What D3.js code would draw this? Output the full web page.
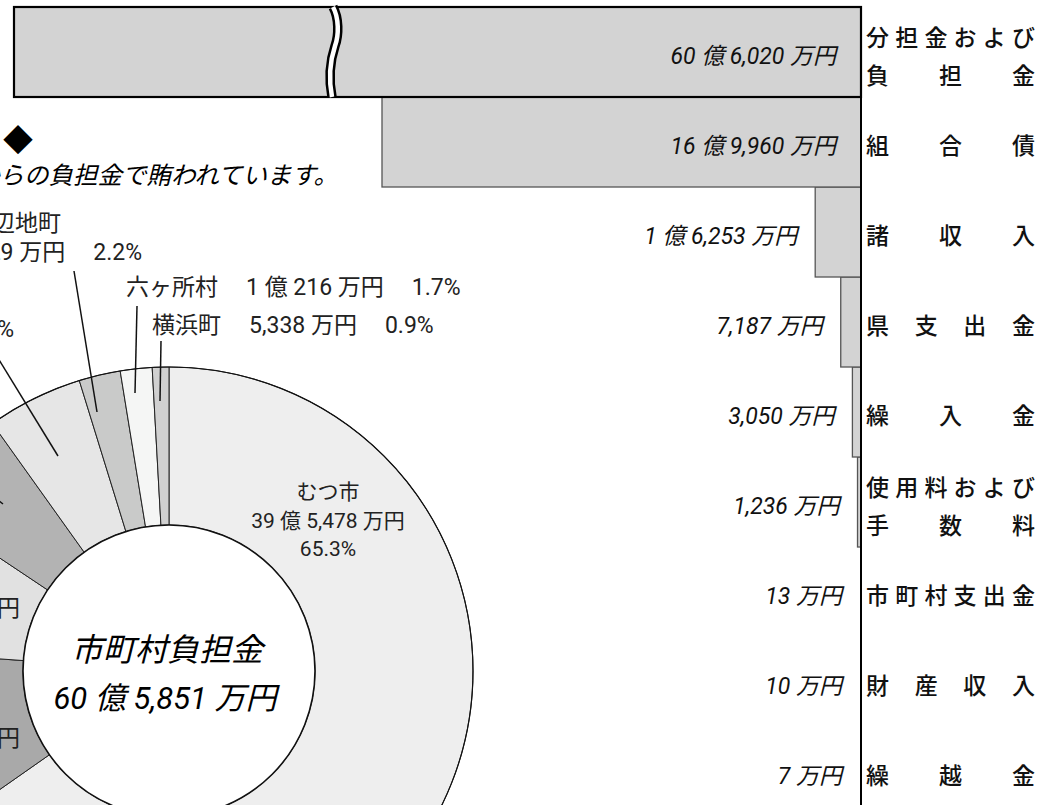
<!DOCTYPE html>
<html>
<head>
<meta charset="utf-8">
<script src="https://cdn.jsdelivr.net/npm/d3@7"></script>
<style>
  body { margin: 0; background: #fff; overflow: hidden; }
  svg { display: block; }
  text { font-family: Roboto, "Noto Sans CJK JP", sans-serif; white-space: pre; }
</style>
</head>
<body>
<div id="chart"></div>
<script>
'use strict';

let width = 1043;
let height = 805;

// 歳入の内訳 (万円)
let revenueNames = [
    ["分担金および", "負担金"], ["組合債"], ["諸収入"], ["県支出金"], ["繰入金"],
    ["使用料および", "手数料"], ["市町村支出金"], ["財産収入"], ["繰越金"]
];
let revenueValues = [606020, 169960, 16253, 7187, 3050, 1236, 13, 10, 7];

// 市町村負担金の内訳 (万円)
let townNames = ["むつ市", "東通村", "大間町", "佐井村", "風間浦村", "野辺地町", "六ヶ所村", "横浜町"];
let townValues = [395478, 65800, 49870, 34920, 30900, 13329, 10216, 5338];
let townColors = ["#eeeeee", "#a9a9a9", "#e1e1e1", "#b3b3b3", "#e6e6e6", "#c9cac9", "#f5f6f5", "#d0d0d0"];

const comma = d3.format(",");
function yen(v) {
    let oku = Math.floor(v / 10000), man = v % 10000;
    if (oku === 0) return comma(man) + " 万円";
    return oku + " 億 " + (man ? comma(man) + " 万円" : "円");
}

const svg = d3.select("#chart").append("svg")
    .attr("width", width)
    .attr("height", height);

/* ---------- bars ---------- */
const axisX = 861;
const y = d3.scaleBand().domain(d3.range(revenueValues.length)).range([7, 817]);
const x = d3.scaleLinear().domain([0, 169960]).range([0, 479]);
const barLeft = i => Math.max(axisX - x(revenueValues[i]), 14);

const bars = svg.append("g");
// small bars first, big one on top so its black border wins
d3.range(revenueValues.length).reverse().forEach(i => {
    bars.append("rect")
        .attr("x", barLeft(i))
        .attr("y", y(i))
        .attr("width", axisX - barLeft(i))
        .attr("height", y.bandwidth())
        .attr("fill", "#d3d3d3")
        .attr("stroke", i === 0 ? "#000" : "#555")
        .attr("stroke-width", i === 0 ? 2.2 : 1.3);
});

// break mark on the first bar
const brk = "M333,7 C339,18 339,35 335,46 C331,58 328,76 332,97";
bars.append("path").attr("d", brk).attr("fill", "none")
    .attr("stroke", "#000").attr("stroke-width", 9.5);
bars.append("path").attr("d", brk).attr("fill", "none")
    .attr("stroke", "#fff").attr("stroke-width", 4.5);

svg.append("line")
    .attr("x1", axisX).attr("x2", axisX)
    .attr("y1", 7).attr("y2", height)
    .attr("stroke", "#000").attr("stroke-width", 2);

// value labels
svg.append("g").selectAll("text")
    .data(revenueValues)
    .join("text")
    .attr("x", (d, i) => (axisX - barLeft(i) > 200) ? axisX - 25 : Math.min(barLeft(i) - 18, 842))
    .attr("y", (d, i) => y(i) + y.bandwidth() / 2 + 4)
    .attr("dy", "0.35em")
    .attr("text-anchor", "end")
    .attr("font-size", 23)
    .attr("font-style", "italic")
    .attr("fill", "#111")
    .text(d => yen(d));

// category labels, spread across a fixed width
const labX = 866, labW = 169, labFs = 23;
const labels = svg.append("g");
revenueNames.forEach((lines, i) => {
    let cy = y(i) + y.bandwidth() / 2;
    let ys = lines.length === 1 ? [cy + 4] : [cy - 14, cy + 24];
    lines.forEach((s, j) => {
        let chars = Array.from(s);
        let step = (labW - labFs) / (chars.length - 1);
        chars.forEach((c, k) => {
            labels.append("text")
                .attr("x", labX + k * step)
                .attr("y", ys[j])
                .attr("dy", "0.35em")
                .attr("font-family", "'Noto Sans CJK JP', sans-serif")
                .attr("font-weight", 500)
                .attr("font-size", labFs)
                .attr("fill", "#111")
                .text(c);
        });
    });
});

/* ---------- title (cut off at the left) ---------- */
svg.append("text")
    .attr("x", 33).attr("y", 140).attr("dy", "0.35em")
    .attr("text-anchor", "end")
    .attr("font-size", 30)
    .text("◆ 歳 入 ◆");
svg.append("text")
    .attr("x", 338).attr("y", 175).attr("dy", "0.35em")
    .attr("text-anchor", "end")
    .attr("font-size", 24.5)
    .attr("font-style", "italic")
    .text("組合の運営費の多くは、構成市町村からの負担金で賄われています。");

/* ---------- donut ---------- */
const cx = 169, cy = 671, rIn = 146, rOut = 304;
const total = d3.sum(townValues);
const pct = v => (v / total * 100).toFixed(1) + "%";

const pie = d3.pie().sort(null).value(d => d);
const arc = d3.arc().innerRadius(rIn).outerRadius(rOut);
const donut = svg.append("g").attr("transform", `translate(${cx},${cy})`);

donut.selectAll("path")
    .data(pie(townValues))
    .join("path")
    .attr("d", arc)
    .attr("fill", (d, i) => townColors[i])
    .attr("stroke", "#222")
    .attr("stroke-width", 1);

donut.append("circle").attr("r", rOut).attr("fill", "none")
    .attr("stroke", "#111").attr("stroke-width", 1.2);
donut.append("circle").attr("r", rIn).attr("fill", "#fff")
    .attr("stroke", "#111").attr("stroke-width", 1.6);

donut.append("text")
    .attr("x", -2).attr("y", -21).attr("dy", "0.35em")
    .attr("text-anchor", "middle")
    .attr("font-size", 32)
    .attr("font-style", "italic")
    .text("市町村負担金");
donut.append("text")
    .attr("x", -4).attr("y", 27).attr("dy", "0.35em")
    .attr("text-anchor", "middle")
    .attr("font-size", 31)
    .attr("font-style", "italic")
    .text(yen(total));

// town labels
const tl = svg.append("g").attr("font-size", 23).attr("fill", "#222");
const sp = "\u3000";

function line(t, i) {
    // name, amount and share on one row with wide gaps
    t.append("tspan").text(townNames[i] + sp);
    t.append("tspan").attr("dx", 5).text(yen(townValues[i]) + sp);
    t.append("tspan").attr("dx", 5).text(pct(townValues[i]));
}
function stack(i, ax, ay) {
    // three centred lines; ax is where the amount line ends
    let t = tl.append("text").attr("x", ax).attr("y", ay).attr("dy", "0.35em")
        .attr("text-anchor", "end").text(yen(townValues[i]));
    let mid = ax - t.node().getComputedTextLength() / 2;
    tl.append("text").attr("x", mid - 20).attr("y", ay - 30).attr("dy", "0.35em")
        .attr("text-anchor", "middle").text(townNames[i]);
    tl.append("text").attr("x", mid - 20).attr("y", ay + 30).attr("dy", "0.35em")
        .attr("text-anchor", "middle").text(pct(townValues[i]));
}
function leader(x1, y1, x2, y2) {
    svg.append("line").attr("x1", x1).attr("y1", y1).attr("x2", x2).attr("y2", y2)
        .attr("stroke", "#111").attr("stroke-width", 1.5);
}

// むつ市
const mutsu = svg.append("g").attr("font-size", 21).attr("fill", "#222");
mutsu.append("text").attr("x", 328).attr("y", 492).attr("dy", "0.35em")
    .attr("text-anchor", "middle").text(townNames[0]);
mutsu.append("text").attr("x", 328).attr("y", 521).attr("dy", "0.35em")
    .attr("text-anchor", "middle").text(yen(townValues[0]));
mutsu.append("text").attr("x", 328).attr("y", 549).attr("dy", "0.35em")
    .attr("text-anchor", "middle").text(pct(townValues[0]));

stack(1, 20, 738);
stack(2, 20, 608);

// 佐井村
line(tl.append("text").attr("x", -60).attr("y", 470).attr("dy", "0.35em")
    .attr("text-anchor", "end"), 3);
leader(-40, 470, 3, 504);

// 風間浦村
line(tl.append("text").attr("x", 14).attr("y", 329).attr("dy", "0.35em")
    .attr("text-anchor", "end"), 4);
leader(-10, 345, 58, 456);

// 野辺地町
tl.append("text").attr("x", 61).attr("y", 223).attr("dy", "0.35em")
    .attr("text-anchor", "end").text(townNames[5]);
let nb = tl.append("text").attr("x", 142).attr("y", 252).attr("dy", "0.35em")
    .attr("text-anchor", "end");
nb.append("tspan").text(yen(townValues[5]) + sp);
nb.append("tspan").attr("dx", 5).text(pct(townValues[5]));
leader(74, 271, 97, 412);

// 六ヶ所村
line(tl.append("text").attr("x", 126).attr("y", 287).attr("dy", "0.35em"), 6);
leader(137, 306, 135, 393);

// 横浜町
line(tl.append("text").attr("x", 152).attr("y", 325).attr("dy", "0.35em"), 7);
leader(161, 341, 160, 401);
</script>
</body>
</html>
